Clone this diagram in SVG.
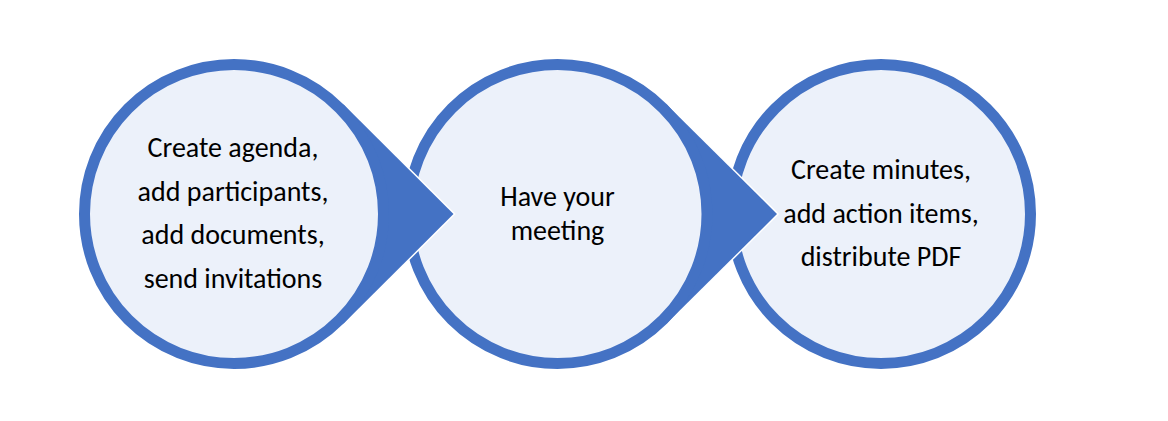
<svg xmlns="http://www.w3.org/2000/svg" width="1168" height="421" viewBox="0 0 1168 421">
  <style>
    .ring { fill: #ECF1FA; stroke: #4472C4; stroke-width: 11; }
    .ptr { fill: #4472C4; stroke: #FFFFFF; stroke-width: 3; stroke-linejoin: miter; paint-order: stroke; }
    .lbl { font-family: Carlito, Lato, "Liberation Sans", sans-serif; font-size: 28px; fill: #000000; text-anchor: middle; }
  </style>
  <rect x="0" y="0" width="1168" height="421" fill="#FFFFFF"/>
  <g id="node3">
    <circle class="ring" cx="881" cy="214" r="149.5"/>
    <text class="lbl" x="881" y="179">Create minutes,</text>
    <text class="lbl" x="881" y="222.5">add action items,</text>
    <text class="lbl" x="881" y="266">distribute PDF</text>
  </g>
  <g id="node2">
    <path class="ptr" d="M666.6,104.4 L777,214 L666.6,323.6 L557,214 Z"/>
    <circle class="ring" cx="557.5" cy="214" r="149.5"/>
    <text class="lbl" x="557.5" y="205.5">Have your</text>
    <text class="lbl" x="557.5" y="239.5">meeting</text>
  </g>
  <g id="node1">
    <path class="ptr" d="M343.6,104.4 L453.5,214 L343.6,323.6 L234,214 Z"/>
    <circle class="ring" cx="234" cy="214" r="149.5"/>
    <text class="lbl" x="233" y="157">Create agenda,</text>
    <text class="lbl" x="233" y="200.5">add participants,</text>
    <text class="lbl" x="233" y="244">add documents,</text>
    <text class="lbl" x="233" y="288">send invitations</text>
  </g>
  <g id="connectors"/>
</svg>
